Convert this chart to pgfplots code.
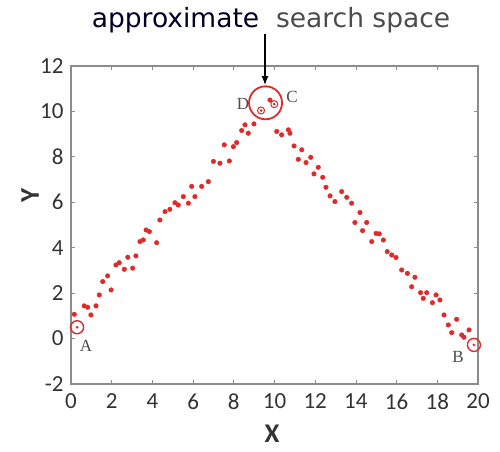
\documentclass[border=0pt]{standalone}
\usepackage{fontspec}
\setmainfont{Carlito}
\newfontfamily\dejavu{DejaVu Sans}
\newfontfamily\serifA{Liberation Serif}
\usepackage{pgfplots}
\pgfplotsset{compat=1.18}
\usetikzlibrary{arrows.meta}
\definecolor{ptred}{HTML}{E02A2A}
\definecolor{framegray}{HTML}{8C8C8C}
\definecolor{txtgray}{HTML}{333333}
\pgfplotstableread{
x y
0.16 1.07
0.65 1.44
0.82 1.38
0.98 1.04
1.23 1.44
1.39 1.92
1.56 2.51
1.80 2.76
1.97 2.14
2.21 3.24
2.37 3.34
2.62 3.05
2.79 3.58
3.03 3.10
3.19 3.64
3.39 4.27
3.55 4.34
3.69 4.78
3.85 4.71
4.21 4.22
4.37 5.22
4.62 5.59
4.86 5.69
5.11 5.98
5.27 5.88
5.52 6.25
5.77 5.96
5.93 6.70
6.09 6.25
6.42 6.70
6.75 6.91
7.00 7.80
7.32 7.72
7.53 8.53
7.78 7.82
7.98 8.45
8.14 8.63
8.39 9.16
8.55 9.41
8.71 9.04
8.99 9.45
9.78 10.50
10.11 9.12
10.35 8.97
10.68 9.19
10.76 9.04
10.96 8.48
11.17 7.89
11.34 8.31
11.55 7.75
11.78 7.98
11.94 7.25
12.15 7.54
12.37 7.10
12.53 6.66
12.73 6.28
12.97 6.03
13.30 6.47
13.55 6.22
13.79 5.96
13.95 5.11
14.20 5.55
14.33 4.75
14.53 5.11
14.78 4.27
14.99 4.63
15.15 4.61
15.35 4.34
15.54 3.83
15.76 3.68
15.97 3.57
16.25 3.02
16.53 2.87
16.74 2.28
16.90 2.70
17.18 2.02
17.31 1.77
17.48 2.02
17.76 1.58
17.94 1.92
18.13 1.70
18.33 1.04
18.54 0.60
18.71 0.26
18.95 0.85
19.20 0.16
19.31 0.06
19.56 0.38
}\pts
\begin{document}
\begin{tikzpicture}[x=1pt,y=1pt]
\begin{axis}[
  at={(0,0)}, anchor=south west,
  scale only axis, width=407pt, height=318pt,
  xmin=0, xmax=20, ymin=-2, ymax=12,
  xtick={0,2,...,20}, ytick={-2,0,...,12},
  tick align=inside, major tick length=4pt,
  tick style={framegray, line width=0.8pt},
  axis line style={framegray, line width=1.6pt},
  tick label style={font=\fontsize{23}{25}\selectfont, text=txtgray},
  /pgf/number format/assume math mode=true,
  xticklabel style={yshift=-6pt},
  yticklabel style={xshift=-4pt},
  clip=false,
]
\addplot[only marks, mark=*, mark size=2.3pt, color=ptred, mark options={draw=ptred, fill=ptred}] table {\pts};
% special points
\addplot[only marks, mark=o, mark size=6.5pt, color=ptred, mark options={line width=1.4pt}] coordinates {(0.30,0.50) (19.80,-0.28)};
\addplot[only marks, mark=*, mark size=1.2pt, color=ptred] coordinates {(0.30,0.50) (19.80,-0.28)};
\addplot[only marks, mark=o, mark size=3.5pt, color=ptred, mark options={line width=1pt}] coordinates {(9.34,10.04) (9.99,10.32)};
\addplot[only marks, mark=*, mark size=1pt, color=ptred!70!black] coordinates {(9.34,10.04) (9.99,10.32)};
\addplot[only marks, mark=o, mark size=16.5pt, color=ptred, mark options={line width=1.8pt}] coordinates {(9.56,10.38)};
\end{axis}
% text and annotations (1pt = 1px; frame corner at px (71,384))
\path (-71,-67) rectangle (429,384);
\node[font=\dejavu\fontsize{26.5}{28}\selectfont] at (200,364) {\textcolor{black!85!blue}{approximate}\ \ \textcolor{black!70}{search space}};
\draw[-{Latex[length=9pt,width=7pt]}, line width=1.2pt] (194,350) -- (194,299);
\node[font=\bfseries\fontsize{27}{29}\selectfont, text=txtgray] at (201,-50) {X};
\node[font=\bfseries\fontsize{27}{29}\selectfont, text=txtgray, rotate=90] at (-41,189) {Y};
\node[font=\serifA\fontsize{17}{19}\selectfont, text=black!70] at (15,38) {A};
\node[font=\serifA\fontsize{17}{19}\selectfont, text=black!70] at (387,27) {B};
\node[font=\serifA\fontsize{17}{19}\selectfont, text=black!70] at (221,287) {C};
\node[font=\serifA\fontsize{17}{19}\selectfont, text=black!70] at (172,280) {D};
\end{tikzpicture}
\end{document}
